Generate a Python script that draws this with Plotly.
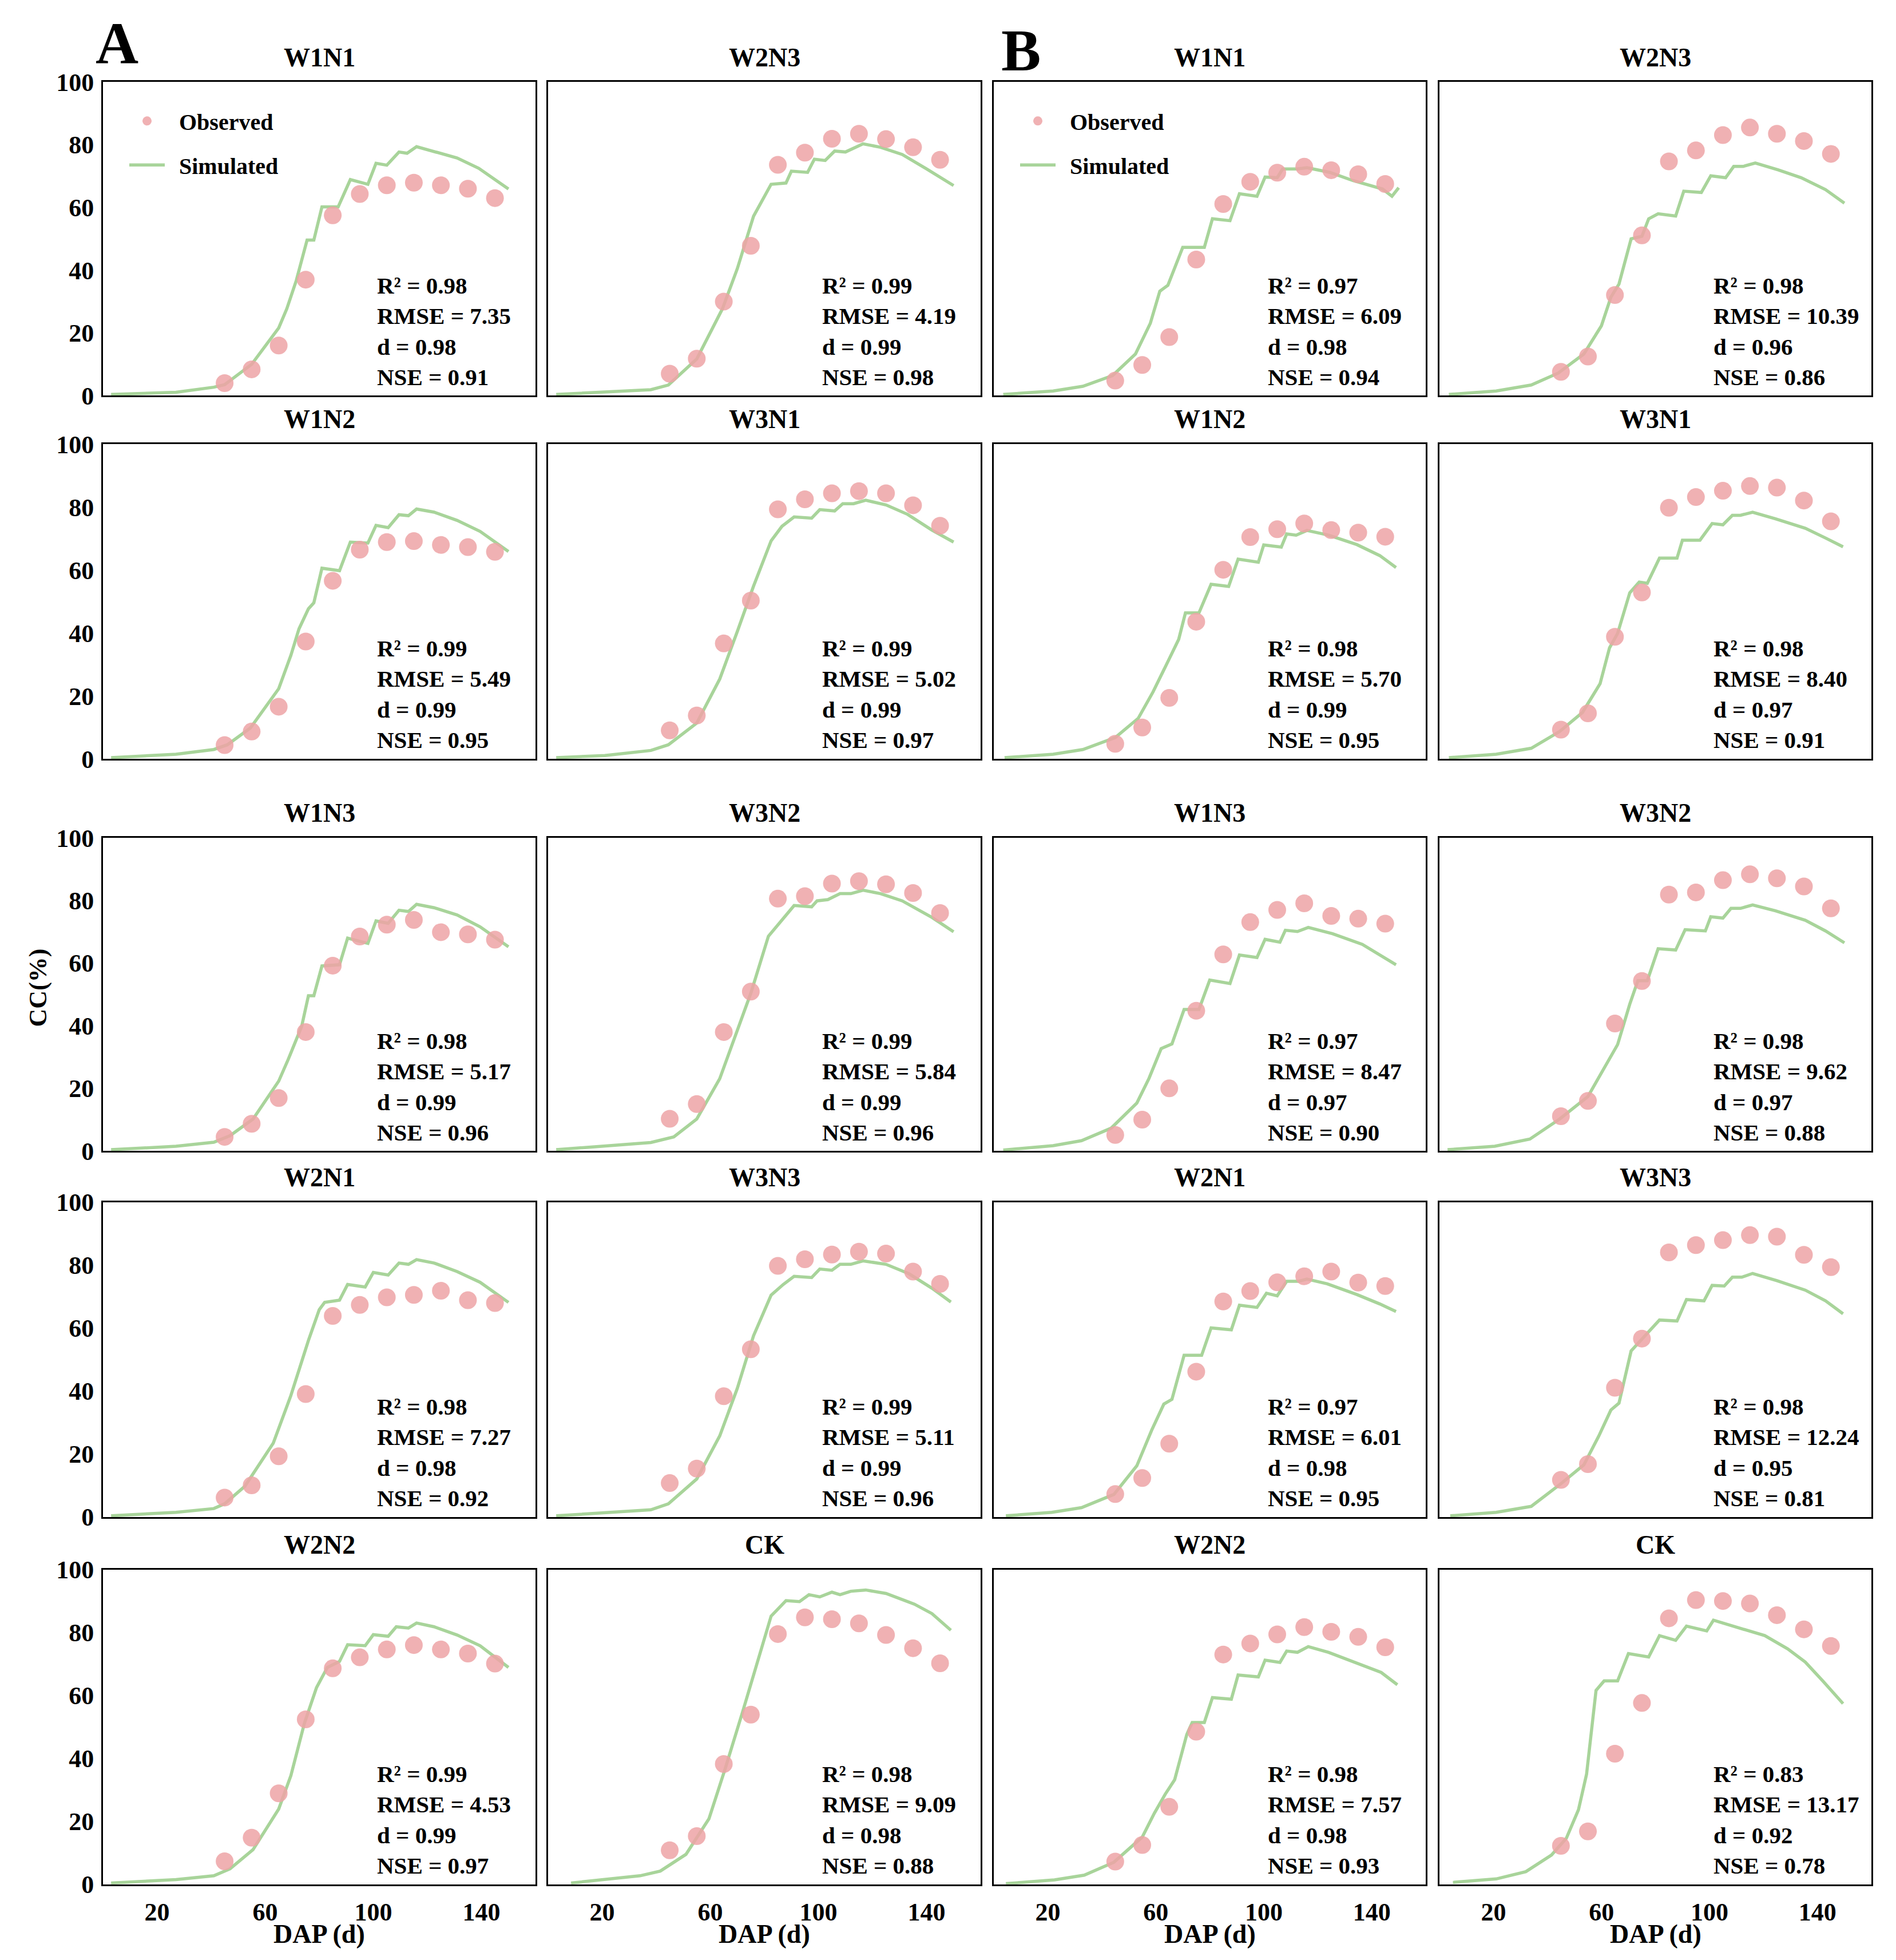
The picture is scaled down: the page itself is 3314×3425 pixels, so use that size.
import plotly.graph_objects as go

# Observation dates (days after planting)
obs_day = [45, 55, 65, 75, 85, 95, 105, 115, 125, 135, 145]

# ---- Panel group A: observed canopy cover (%)
a_w1n1_obs = [4, 8.4, 16, 37, 57.5, 64.3, 67.1, 67.9, 67.1, 66, 63]
a_w2n3_obs = [7, 11.8, 30, 47.8, 73.6, 77.5, 81.9, 83.5, 81.8, 79.2, 75.2]
a_w1n2_obs = [4.4, 8.7, 16.6, 37.3, 56.6, 66.5, 68.9, 69.2, 68, 67.3, 65.8]
a_w3n1_obs = [9.1, 13.8, 36.7, 50.3, 79.3, 82.5, 84.4, 85.1, 84.4, 80.6, 74.1]
a_w1n3_obs = [4.5, 8.7, 16.9, 38, 59.2, 68.5, 72.3, 73.8, 69.9, 69.2, 67.5]
a_w3n2_obs = [10.3, 15, 38, 50.9, 80.6, 81.4, 85.4, 86.2, 85.2, 82.4, 76]
a_w2n1_obs = [6.2, 10.1, 19.3, 39.1, 63.9, 67.4, 69.8, 70.6, 71.9, 68.9, 68]
a_w3n3_obs = [10.8, 15.4, 38.4, 53.3, 79.8, 81.9, 83.4, 84.3, 83.7, 78, 74.1]
a_w2n2_obs = [7.3, 14.8, 28.9, 52.4, 68.6, 72.1, 74.6, 76, 74.6, 73.3, 70.1]
a_ck_obs = [10.8, 15.3, 38.2, 53.9, 79.5, 84.8, 84.2, 82.9, 79.2, 75, 70.2]

# ---- Panel group B: observed canopy cover (%)
b_w1n1_obs = [4.8, 9.8, 18.7, 43.4, 61.1, 68.2, 71.1, 73, 71.9, 70.6, 67.5]
b_w2n3_obs = [7.6, 12.5, 32.1, 51.1, 74.7, 78.2, 83.1, 85.5, 83.5, 81.2, 77.1]
b_w1n2_obs = [4.8, 10, 19.4, 43.6, 60.1, 70.5, 73, 74.8, 72.7, 71.9, 70.6]
b_w3n1_obs = [9.3, 14.5, 38.8, 52.9, 79.8, 83.2, 85.2, 86.7, 86.2, 82.1, 75.5]
b_w1n3_obs = [5.1, 10, 20, 44.8, 62.8, 73.1, 77, 79.1, 75.1, 74.2, 72.6]
b_w3n2_obs = [11.1, 16, 40.7, 54.3, 81.9, 82.6, 86.5, 88.4, 87.1, 84.5, 77.5]
b_w2n1_obs = [7.3, 12.4, 23.3, 46.2, 68.5, 71.8, 74.6, 76.5, 78, 74.5, 73.4]
b_w3n3_obs = [11.8, 16.8, 41.1, 56.7, 84.1, 86.4, 88, 89.6, 89.1, 83.3, 79.4]
b_w2n2_obs = [7.2, 12.5, 24.6, 48.5, 73, 76.5, 79.4, 81.7, 80.2, 78.6, 75.3]
b_ck_obs = [12.2, 16.8, 41.5, 57.6, 84.5, 90.3, 90, 89.2, 85.5, 81, 75.7]

# ---- Simulated canopy cover (day, %)
a_w1n1_sim_day = [3, 27, 41, 45, 55, 65, 68, 71.5, 75.5, 78, 81, 87, 91.5, 98, 101, 105, 109.5, 112.5, 116, 122, 131, 139, 150]
a_w1n1_sim = [0.4, 1.1, 2.7, 3.5, 10, 21.6, 27.7, 36.7, 49.6, 49.6, 60.2, 60.2, 68.9, 67.4, 74.1, 73.5, 77.7, 77.3, 79.4, 78, 75.8, 72.5, 65.9]
a_w2n3_sim_day = [3, 21, 38, 44.5, 55, 64.5, 70, 76, 82.5, 88, 90, 96, 98.5, 102.5, 106, 110, 116.5, 123, 131, 140, 150]
a_w2n3_sim = [0.4, 1.1, 1.9, 3.4, 11.7, 27.7, 40.5, 57.2, 67.4, 67.8, 71.6, 71.2, 75.4, 75, 78, 77.7, 80.3, 79.2, 76.9, 72.3, 67]
a_w1n2_sim_day = [3, 27, 41, 46, 54.5, 65, 69.5, 72.5, 76, 78, 81, 87.5, 91.5, 98, 101, 105.5, 109.5, 113, 116, 122.5, 131, 139.5, 150]
a_w1n2_sim = [0.4, 1.5, 3, 4.5, 9.8, 22.3, 32.9, 41.3, 47.7, 49.6, 60.6, 59.8, 68.9, 68.6, 74.2, 73.5, 77.6, 77.3, 79.4, 78.4, 75.8, 72.3, 65.9]
a_w3n1_sim_day = [3, 21, 38, 44.5, 55, 63.5, 70, 76, 82.5, 86.5, 91, 97.5, 100.5, 106, 109, 113, 117.5, 125, 133, 142, 150]
a_w3n1_sim = [0.4, 1.1, 2.7, 4.5, 11.4, 25.4, 40.5, 54.9, 69.3, 73.9, 76.9, 76.5, 79.2, 78.8, 81.1, 81.1, 82.2, 80.7, 77.7, 72.7, 68.9]
a_w1n3_sim_day = [3, 27, 41, 47, 55.5, 65, 68.5, 73.5, 76, 78, 81, 87.5, 90.5, 98, 101, 105.5, 109.5, 113, 116, 122.5, 131, 139.5, 150]
a_w1n3_sim = [0.4, 1.5, 2.8, 4.9, 10.2, 22.3, 29.2, 39.8, 49.6, 49.6, 59.1, 59.5, 68, 66.3, 73.5, 72.7, 76.9, 76.5, 78.8, 77.7, 75.4, 71.6, 65.2]
a_w3n2_sim_day = [3, 21, 38, 46.5, 55, 63.5, 70, 75, 81.5, 87, 91, 97.5, 99.5, 103.5, 108, 112, 116.5, 123, 131, 142, 150]
a_w3n2_sim = [0.4, 1.5, 2.7, 4.5, 10.2, 23.1, 38.3, 50.4, 68.6, 74.2, 78.4, 78, 79.9, 80.3, 82.2, 82.2, 83.3, 82.2, 79.9, 74.6, 70]
a_w2n1_sim_day = [3, 27, 41, 45, 52.5, 63, 69.5, 76, 80, 82, 87.5, 90.5, 97, 100, 105.5, 109.5, 113, 116, 122.5, 131, 139.5, 150]
a_w2n1_sim = [0.4, 1.5, 2.7, 4.2, 9.8, 23.5, 38.6, 56.1, 65.9, 68.2, 68.9, 73.9, 73.1, 77.7, 76.9, 80.7, 80.3, 81.8, 80.7, 78, 74.6, 68.2]
a_w3n3_sim_day = [3, 21, 38, 44.5, 55, 63.5, 70, 76, 82.5, 87, 91, 97.5, 100.5, 105, 108, 112, 116.5, 125, 133.5, 142, 149]
a_w3n3_sim = [0.4, 1.5, 2.3, 4.2, 12.1, 25.8, 40.9, 57.6, 70.5, 73.9, 76.5, 76.1, 78.8, 78.4, 80.3, 80.3, 81.4, 80.3, 77.3, 72.7, 68.3]
a_w2n2_sim_day = [3, 27, 41, 47, 55.5, 65, 69.5, 74.5, 79, 83, 87.5, 90.5, 97, 100, 105.5, 108.5, 113, 116, 122.5, 131, 139.5, 150]
a_w2n2_sim = [0.4, 1.5, 2.7, 4.9, 11, 23.9, 34.5, 51.1, 62.5, 68.9, 70.8, 76.1, 75.8, 79.3, 78.8, 81.8, 81.4, 83, 81.8, 79.2, 75.8, 68.9]
a_ck_sim_day = [8.5, 21, 34, 41.5, 51, 59.5, 65.5, 72, 78.5, 82.5, 88, 93, 96.5, 100.5, 105, 108, 112, 117.5, 125, 135.5, 142, 149]
a_ck_sim = [0.4, 1.5, 2.7, 4.2, 9.5, 20.8, 36.7, 54.9, 73.9, 85.2, 90.1, 89.8, 92, 91.3, 92.8, 92, 93.1, 93.5, 92.4, 89, 86, 80.7]

b_w1n1_sim_day = [3.5, 22, 33, 44, 52.5, 58, 61.5, 64.5, 70, 78, 81, 87.5, 91, 97.5, 100.5, 105, 107, 112.5, 116, 124.5, 133, 144, 147.5, 150]
b_w1n1_sim = [0.4, 1.5, 3, 6.4, 13.3, 23.1, 33.3, 35.2, 47.3, 47.3, 56.4, 55.8, 64.4, 63.6, 69.7, 69.5, 72.3, 72.3, 72.7, 71.2, 68.6, 65.9, 63.6, 66.3]
b_w2n3_sim_day = [3.5, 21, 34, 44, 53.5, 60, 63.5, 66.5, 71, 75, 77.5, 81, 87.5, 90.5, 97, 100.5, 106, 109, 112.5, 117, 125.5, 134, 143, 150]
b_w2n3_sim = [0.4, 1.5, 3.4, 7.2, 13.3, 22.3, 31.4, 35.6, 50, 50.8, 56.4, 58, 57.3, 65.2, 64.8, 70.1, 69.5, 73.1, 73.1, 74.2, 72, 69.5, 65.7, 61.4]
b_w1n2_sim_day = [4, 22, 33, 45, 53.5, 59, 65.5, 68.5, 71, 76, 80.5, 87, 90.5, 98, 100, 106.5, 108.5, 112, 116, 124, 134.5, 143, 149]
b_w1n2_sim = [0.4, 1.5, 3, 6.8, 12.9, 21.3, 32.7, 38, 46.4, 46.4, 55.5, 54.8, 63.5, 62.5, 68, 67.3, 71.5, 71.1, 72.6, 71.1, 68.1, 64.6, 60.8]
b_w3n1_sim_day = [3.5, 21, 34, 44.5, 53, 59.5, 63, 66, 70.5, 74, 77, 81.5, 88, 90, 96.5, 101, 105, 108.5, 111.5, 116, 124.5, 135.5, 143, 149.5]
b_w3n1_sim = [0.4, 1.5, 3.4, 8.7, 14.8, 23.9, 35.3, 39.9, 52.8, 56.2, 55.8, 63.8, 63.8, 69.5, 69.5, 74.8, 74.4, 77.4, 77.4, 78.4, 76.3, 73.3, 70.2, 67.4]
b_w1n3_sim_day = [3.5, 22, 32.5, 43.5, 53, 57.5, 62, 66, 70.5, 76, 80, 87.5, 91, 97.5, 100.5, 106, 108, 112.5, 116.5, 125.5, 136.5, 149]
b_w1n3_sim = [0.3, 1.7, 3.3, 7.3, 15.3, 23.2, 32.7, 34.2, 45.2, 45.2, 54.6, 53.5, 62.6, 61.8, 67.6, 66.7, 70.5, 70.1, 71.4, 69.4, 66, 59.5]
b_w3n2_sim_day = [3, 20.5, 33.5, 44.5, 55, 61.5, 66, 70.5, 73.5, 77, 81, 87.5, 91, 98.5, 100.5, 105, 108, 111.5, 116, 124.5, 135.5, 143, 150]
b_w3n2_sim = [0.4, 1.5, 3.8, 10.2, 17.4, 27.2, 34, 46.9, 54.4, 54.4, 64.6, 64.2, 70.7, 70.3, 74.8, 74.4, 77.5, 77.5, 78.6, 76.7, 73.7, 70.3, 66.5]
b_w2n1_sim_day = [4.5, 21.5, 32.5, 44.5, 53, 58.5, 63, 66, 70.5, 77, 80.5, 88, 91, 97.5, 101, 105, 108.5, 113, 116, 123.5, 134.5, 143, 149]
b_w2n1_sim = [0.4, 1.5, 3, 7.2, 16.3, 27.6, 35.9, 37.4, 51.4, 51.4, 60.1, 59.5, 67.3, 66.6, 71.1, 70.3, 74.9, 74.9, 75.6, 74.1, 70.7, 67.7, 65.3]
b_w3n3_sim_day = [4, 21, 34, 45, 53.5, 59, 63.5, 66.5, 71, 75, 81.5, 88, 91.5, 98, 101, 105.5, 108.5, 112, 116, 125, 135.5, 143, 149.5]
b_w3n3_sim = [0.4, 1.5, 3.4, 10.6, 16.6, 25.7, 34, 36.2, 52.8, 56.4, 62.6, 62.3, 69.1, 68.7, 73.6, 73.4, 76.2, 76.2, 77.4, 75.1, 72.1, 68.7, 64.6]
b_w2n2_sim_day = [4.5, 22.5, 33.5, 44.5, 55, 59.5, 63.5, 67, 71.5, 73.5, 78, 81, 88, 90.5, 98, 100.5, 106, 108.5, 112.5, 116.5, 124, 136, 143.5, 149.5]
b_w2n2_sim = [0.2, 1.4, 2.9, 7, 15, 22.6, 28.6, 33.2, 47.6, 51.4, 51.4, 59.3, 58.8, 66.5, 65.9, 71.2, 70.5, 74.1, 73.7, 75.5, 73.7, 69.9, 67.3, 63.4]
b_ck_sim_day = [5, 21, 32, 41.5, 47, 51.5, 54.5, 58, 61, 66, 70, 77.5, 81.5, 87.5, 91.5, 99, 101.5, 112, 120.5, 129, 135.5, 142, 149.5]
b_ck_sim = [0.6, 1.7, 4, 9.3, 14.6, 23.7, 35, 61.6, 64.6, 64.6, 73.3, 72.2, 79, 77.5, 82, 80.5, 83.9, 81.3, 79, 74.8, 70.6, 64.6, 57.4]

# ---- Goodness-of-fit statistics: R2, RMSE, d, NSE
a_stats = {
    "W1N1": ["0.98", "7.35", "0.98", "0.91"], "W2N3": ["0.99", "4.19", "0.99", "0.98"],
    "W1N2": ["0.99", "5.49", "0.99", "0.95"], "W3N1": ["0.99", "5.02", "0.99", "0.97"],
    "W1N3": ["0.98", "5.17", "0.99", "0.96"], "W3N2": ["0.99", "5.84", "0.99", "0.96"],
    "W2N1": ["0.98", "7.27", "0.98", "0.92"], "W3N3": ["0.99", "5.11", "0.99", "0.96"],
    "W2N2": ["0.99", "4.53", "0.99", "0.97"], "CK": ["0.98", "9.09", "0.98", "0.88"],
}
b_stats = {
    "W1N1": ["0.97", "6.09", "0.98", "0.94"], "W2N3": ["0.98", "10.39", "0.96", "0.86"],
    "W1N2": ["0.98", "5.70", "0.99", "0.95"], "W3N1": ["0.98", "8.40", "0.97", "0.91"],
    "W1N3": ["0.97", "8.47", "0.97", "0.90"], "W3N2": ["0.98", "9.62", "0.97", "0.88"],
    "W2N1": ["0.97", "6.01", "0.98", "0.95"], "W3N3": ["0.98", "12.24", "0.95", "0.81"],
    "W2N2": ["0.98", "7.57", "0.98", "0.93"], "CK": ["0.83", "13.17", "0.92", "0.78"],
}

x_ticks = [20, 60, 100, 140]
y_ticks = [0, 20, 40, 60, 80, 100]

# grid of panels: (row, col, group, treatment, observed, sim days, sim values)
panels = [
    (0, 0, "A", "W1N1", a_w1n1_obs, a_w1n1_sim_day, a_w1n1_sim),
    (0, 1, "A", "W2N3", a_w2n3_obs, a_w2n3_sim_day, a_w2n3_sim),
    (0, 2, "B", "W1N1", b_w1n1_obs, b_w1n1_sim_day, b_w1n1_sim),
    (0, 3, "B", "W2N3", b_w2n3_obs, b_w2n3_sim_day, b_w2n3_sim),
    (1, 0, "A", "W1N2", a_w1n2_obs, a_w1n2_sim_day, a_w1n2_sim),
    (1, 1, "A", "W3N1", a_w3n1_obs, a_w3n1_sim_day, a_w3n1_sim),
    (1, 2, "B", "W1N2", b_w1n2_obs, b_w1n2_sim_day, b_w1n2_sim),
    (1, 3, "B", "W3N1", b_w3n1_obs, b_w3n1_sim_day, b_w3n1_sim),
    (2, 0, "A", "W1N3", a_w1n3_obs, a_w1n3_sim_day, a_w1n3_sim),
    (2, 1, "A", "W3N2", a_w3n2_obs, a_w3n2_sim_day, a_w3n2_sim),
    (2, 2, "B", "W1N3", b_w1n3_obs, b_w1n3_sim_day, b_w1n3_sim),
    (2, 3, "B", "W3N2", b_w3n2_obs, b_w3n2_sim_day, b_w3n2_sim),
    (3, 0, "A", "W2N1", a_w2n1_obs, a_w2n1_sim_day, a_w2n1_sim),
    (3, 1, "A", "W3N3", a_w3n3_obs, a_w3n3_sim_day, a_w3n3_sim),
    (3, 2, "B", "W2N1", b_w2n1_obs, b_w2n1_sim_day, b_w2n1_sim),
    (3, 3, "B", "W3N3", b_w3n3_obs, b_w3n3_sim_day, b_w3n3_sim),
    (4, 0, "A", "W2N2", a_w2n2_obs, a_w2n2_sim_day, a_w2n2_sim),
    (4, 1, "A", "CK", a_ck_obs, a_ck_sim_day, a_ck_sim),
    (4, 2, "B", "W2N2", b_w2n2_obs, b_w2n2_sim_day, b_w2n2_sim),
    (4, 3, "B", "CK", b_ck_obs, b_ck_sim_day, b_ck_sim),
]

# page geometry (pixels)
W, H = 3314, 3425
col_px = [(172, 928), (950, 1706), (1729, 2484), (2508, 3263)]
row_px = [(113, 669), (755, 1313), (1453, 2008), (2099, 2657), (2750, 3308)]

FONT = "Liberation Serif"
OBS_COLOR = "#EDA3A6"
SIM_COLOR = "#A8D49A"

fig = go.Figure()
layout = {}
annotations = []

for n, (r, c, grp, name, obs, sday, sval) in enumerate(panels, start=1):
    xa = "x" if n == 1 else f"x{n}"
    ya = "y" if n == 1 else f"y{n}"
    first = (r == 0 and c in (0, 2))
    legend_id = "legend" if c == 0 else "legend2"

    fig.add_trace(go.Scatter(
        x=sday, y=sval, mode="lines", name="\u00a0\u00a0Simulated",
        line=dict(color=SIM_COLOR, width=5.5),
        xaxis=xa, yaxis=ya, showlegend=first, legend=legend_id,
        legendgroup=f"sim{c}", legendrank=2,
    ))
    fig.add_trace(go.Scatter(
        x=obs_day, y=obs, mode="markers", name="\u00a0\u00a0Observed",
        marker=dict(color=OBS_COLOR, size=31, opacity=0.85, line=dict(width=0)),
        xaxis=xa, yaxis=ya, showlegend=first, legend=legend_id,
        legendgroup=f"obs{c}", legendrank=1,
    ))

    x0, x1 = col_px[c]
    y0, y1 = row_px[r]
    axis_common = dict(
        showline=True, mirror=True, linecolor="black", linewidth=3,
        showgrid=False, zeroline=False, ticks="",
        tickfont=dict(family=FONT, size=44, color="black", weight="bold"),
    )
    layout["xaxis" if n == 1 else f"xaxis{n}"] = dict(
        domain=[x0 / W, x1 / W], range=[0, 160], anchor=ya,
        tickvals=x_ticks, showticklabels=(r == 4), ticklabelstandoff=8,
        **axis_common)
    layout["yaxis" if n == 1 else f"yaxis{n}"] = dict(
        domain=[1 - y1 / H, 1 - y0 / H], range=[0, 100], anchor=xa,
        tickvals=y_ticks, showticklabels=(c == 0), ticklabelstandoff=4,
        **axis_common)

    # panel title
    annotations.append(dict(
        x=(x0 + x1) / 2 / W, y=1 - (y0 - 44) / H, xref="paper", yref="paper",
        text=f"<b>{name}</b>", showarrow=False, xanchor="center", yanchor="middle",
        font=dict(family=FONT, size=46, color="black")))

    # statistics block
    st = (a_stats if grp == "A" else b_stats)[name]
    txt = (f"<b>R² = {st[0]}</b><br><b>RMSE = {st[1]}</b><br>"
           f"<b>d = {st[2]}</b><br><b>NSE = {st[3]}</b>")
    annotations.append(dict(
        x=101, y=20.5, xref=xa, yref=ya, text=txt, showarrow=False,
        xanchor="left", yanchor="middle", align="left",
        font=dict(family=FONT, size=41, color="black")))

    if r == 4:
        annotations.append(dict(
            x=(x0 + x1) / 2 / W, y=1 - 3396 / H, xref="paper", yref="paper",
            text="<b>DAP (d)</b>", showarrow=False, xanchor="center", yanchor="middle",
            font=dict(family=FONT, size=46, color="black")))

# group letters and y title
annotations.append(dict(x=196 / W, y=1 - 44 / H, xref="paper", yref="paper",
                        text="<b>A</b>", showarrow=False, xanchor="center", yanchor="middle",
                        font=dict(family=FONT, size=104, color="black")))
annotations.append(dict(x=1777 / W, y=1 - 56 / H, xref="paper", yref="paper",
                        text="<b>B</b>", showarrow=False, xanchor="center", yanchor="middle",
                        font=dict(family=FONT, size=104, color="black")))
annotations.append(dict(x=58 / W, y=1 - 1718 / H, xref="paper", yref="paper",
                        text="<b>CC(%)</b>", showarrow=False, textangle=-90,
                        xanchor="center", yanchor="middle",
                        font=dict(family=FONT, size=44, color="black")))

legend_style = dict(
    font=dict(family=FONT, size=40, color="black", weight="bold"),
    bgcolor="rgba(0,0,0,0)", xanchor="left", yanchor="top",
    tracegroupgap=22, itemwidth=62, traceorder="grouped",
)
layout["legend"] = dict(x=213 / W, y=1 - 149 / H, **legend_style)
layout["legend2"] = dict(x=(213 + 1729 - 172) / W, y=1 - 149 / H, **legend_style)

fig.update_layout(
    **layout,
    annotations=annotations,
    width=W, height=H, autosize=False,
    margin=dict(l=0, r=0, t=0, b=0),
    plot_bgcolor="white", paper_bgcolor="white",
    font=dict(family=FONT, color="black"),
)

fig.write_html("out.html")
